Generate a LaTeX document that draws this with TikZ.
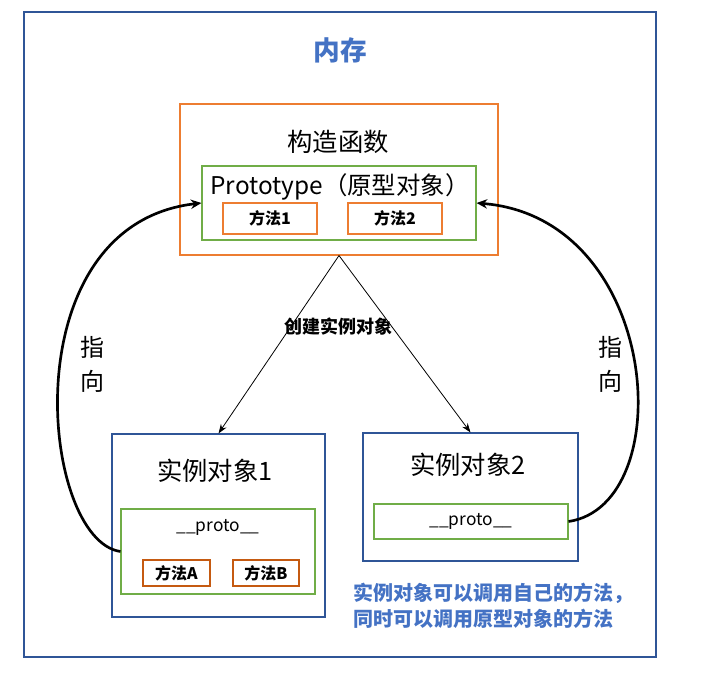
\documentclass[tikz,border=0pt]{standalone}
\usepackage{fontspec}
\setmainfont{Noto Sans CJK SC}
\usetikzlibrary{arrows.meta}
\definecolor{frameblue}{HTML}{2F5597}
\definecolor{ctororange}{HTML}{ED7D31}
\definecolor{protogreen}{HTML}{70AD47}
\definecolor{methodbrown}{HTML}{C55A11}
\definecolor{noteblue}{HTML}{4472C4}
\begin{document}
\begin{tikzpicture}[x=0.75pt,y=-0.75pt,
  box/.style={draw, line width=0.8pt, inner sep=0pt, text=black},
  blk/.style 2 args={box, minimum width=#1*0.75pt, minimum height=#2*0.75pt},
  methodtxt/.style={font=\bfseries\fontsize{12}{14}\selectfont},
  titletxt/.style={font=\fontsize{19}{22}\selectfont},
  prototxt/.style={font=\fontsize{13}{16}\selectfont},
  thinarrow/.style={-{Stealth[length=7pt,width=5pt]}, line width=0.6pt},
  thickarrow/.style={-{Stealth[length=8pt,width=7pt]}, line width=2pt},
  pointtxt/.style={font=\fontsize{18}{25.5}\selectfont, align=center}]
\useasboundingbox (0,0) rectangle (711,693);

% memory frame
\node[blk={632}{645}, draw=frameblue] (mem) at (340,334.5) {};
\node[font=\bfseries\fontsize{20}{24}\selectfont, text=noteblue] (memtitle) at (340,50) {内存};

% constructor with its prototype object
\node[blk={318}{151}, draw=ctororange] (ctor) at (339,179.5) {};
\node[titletxt] (ctortitle) at (338,142) {构造函数};
\node[blk={274}{74}, draw=protogreen] (proto) at (339,203) {};
\node[font=\fontsize{18.3}{22}\selectfont] (prototitle) at (340,187) {Prototype（原型对象）};
\node[blk={94}{31}, draw=ctororange, methodtxt] (m1) at (270,218.5) {方法1};
\node[blk={94}{31}, draw=ctororange, methodtxt] (m2) at (395,218.5) {方法2};

% instance object 1
\node[blk={213}{183}, draw=frameblue] (inst1) at (218.5,525.5) {};
\node[titletxt] (inst1title) at (215,471) {实例对象1};
\node[blk={194}{85}, draw=protogreen] (p1) at (218,551.5) {};
\node[prototxt] (p1title) at (218,527) {\_\_proto\_\_};
\node[blk={67}{26}, draw=methodbrown, methodtxt] (ma) at (176.5,573) {方法A};
\node[blk={66}{26}, draw=methodbrown, methodtxt] (mb) at (266,573) {方法B};

% instance object 2
\node[blk={215}{128}, draw=frameblue] (inst2) at (470.5,497) {};
\node[titletxt] (inst2title) at (468,465) {实例对象2};
\node[blk={194}{35}, draw=protogreen, prototxt] (p2) at (471,521.5) {\_\_proto\_\_};

% creation arrows
\draw[thinarrow] (ctor.south) -- (inst1.north);
\draw[thinarrow] (ctor.south) -- (inst2.north);
\node[font=\bfseries\fontsize{13.5}{15}\selectfont, inner sep=1pt] (create) at (338,327) {创建实例对象};

% __proto__ links back to the prototype
\draw[thickarrow] (p1.west) .. controls (40,540) and (10,225) .. (proto.west);
\draw[thickarrow] (p2.east) .. controls (680,505) and (662,218) .. (proto.east);
\node[pointtxt] (leftlbl) at (92,364) {指\\向};
\node[pointtxt] (rightlbl) at (610,364) {指\\向};

% note
\node[font=\bfseries\fontsize{15}{19}\selectfont, text=noteblue, align=left, anchor=north west, inner sep=0pt] (note) at (353,583) {实例对象可以调用自己的方法，\\同时可以调用原型对象的方法};
\end{tikzpicture}
\end{document}
